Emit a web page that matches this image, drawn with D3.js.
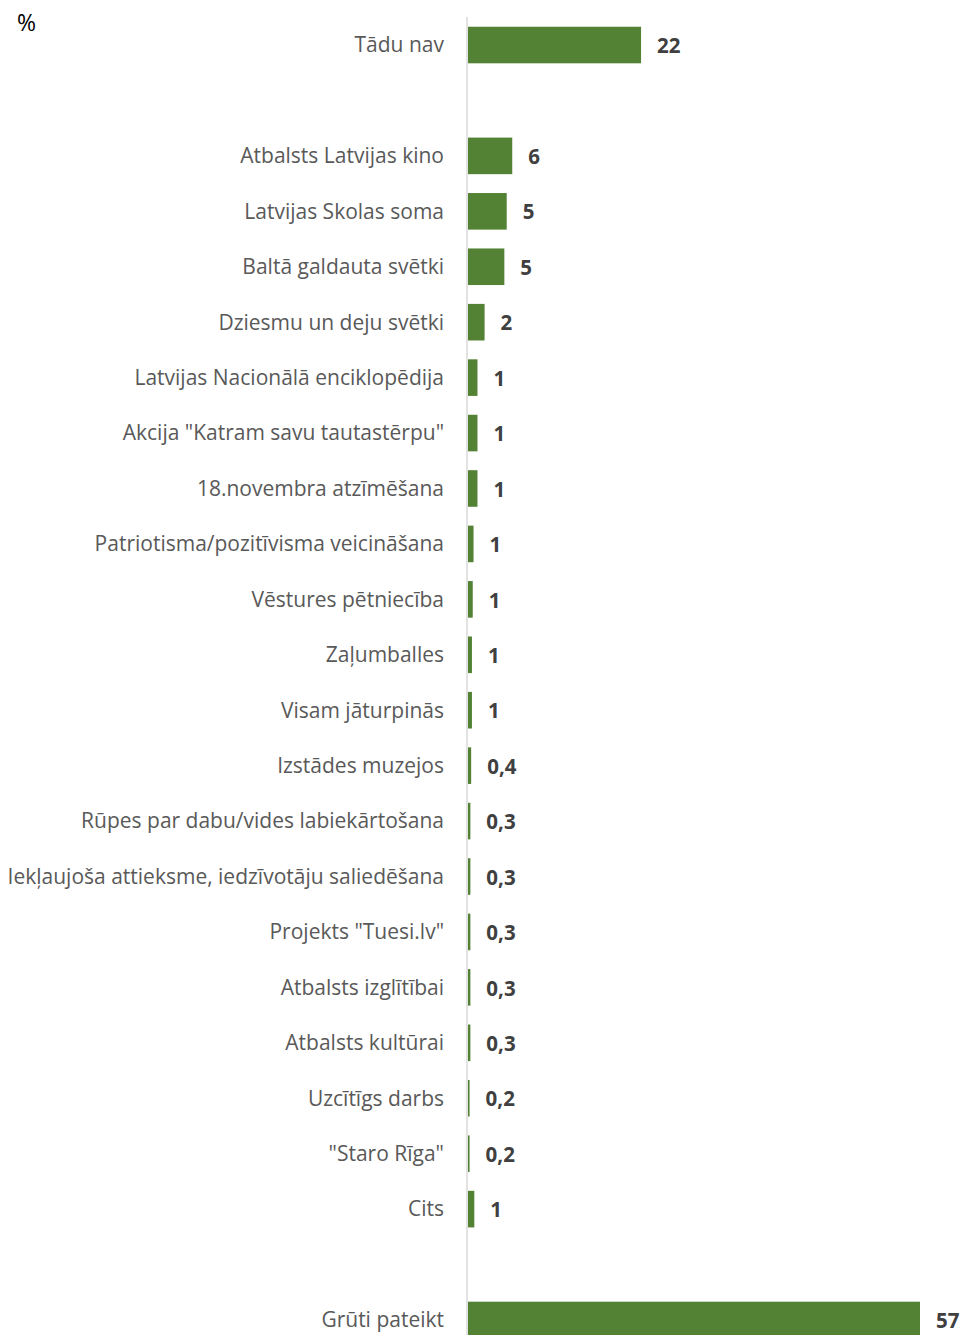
<!DOCTYPE html>
<html>
<head>
<meta charset="utf-8">
<script src="https://cdn.jsdelivr.net/npm/d3@7"></script>
<style>
  html, body { margin: 0; padding: 0; background: #fff; }
  svg { display: block; }
</style>
</head>
<body>
<svg id="chart" width="966" height="1335"></svg>
<script>
// Categories (empty strings are spacer rows in the original chart)
const categories = [
  "Tādu nav",
  "",
  "Atbalsts Latvijas kino",
  "Latvijas Skolas soma",
  "Baltā galdauta svētki",
  "Dziesmu un deju svētki",
  "Latvijas Nacionālā enciklopēdija",
  "Akcija \"Katram savu tautastērpu\"",
  "18.novembra atzīmēšana",
  "Patriotisma/pozitīvisma veicināšana",
  "Vēstures pētniecība",
  "Zaļumballes",
  "Visam jāturpinās",
  "Izstādes muzejos",
  "Rūpes par dabu/vides labiekārtošana",
  "Iekļaujoša attieksme, iedzīvotāju saliedēšana",
  "Projekts \"Tuesi.lv\"",
  "Atbalsts izglītībai",
  "Atbalsts kultūrai",
  "Uzcītīgs darbs",
  "\"Staro Rīga\"",
  "Cits",
  "",
  "Grūti pateikt"
];
const values = [21.9, null, 5.6, 4.9, 4.6, 2.1, 1.2, 1.2, 1.2, 0.7, 0.6, 0.5, 0.5, 0.4, 0.3, 0.3, 0.3, 0.3, 0.3, 0.2, 0.2, 0.8, null, 57.2];
const valueLabels = ["22", "", "6", "5", "5", "2", "1", "1", "1", "1", "1", "1", "1", "0,4", "0,3", "0,3", "0,3", "0,3", "0,3", "0,2", "0,2", "1", "", "57"];
const unitLabel = "%";

const svg = d3.select("#chart");
const x0 = 468;
const x = d3.scaleLinear().domain([0, 57.2]).range([x0, 920]);
const idx = categories.map((d, i) => i);
const y = d3.scaleBand().domain(idx).range([17.3, 1347.7]).paddingInner(0.34).paddingOuter(0.17);

const catFont = "'Open Sans', sans-serif";
const valFont = "'Open Sans', sans-serif";

// axis line
svg.append("line")
  .attr("x1", x0 - 1).attr("x2", x0 - 1)
  .attr("y1", 17).attr("y2", 1335)
  .attr("stroke", "#d9d9d9").attr("stroke-width", 1.5);

// bars
svg.append("g").selectAll("rect")
  .data(idx.filter(i => values[i] != null))
  .join("rect")
  .attr("x", x0)
  .attr("y", i => y(i))
  .attr("width", i => x(values[i]) - x0)
  .attr("height", y.bandwidth())
  .attr("fill", "#548235");

// category labels
svg.append("g").selectAll("text")
  .data(idx.filter(i => categories[i] !== ""))
  .join("text")
  .attr("x", 444)
  .attr("y", i => y(i) + y.bandwidth() / 2)
  .attr("dy", "0.35em")
  .attr("text-anchor", "end")
  .attr("font-family", catFont)
  .attr("font-size", 21)
  .attr("fill", "#595959")
  .text(i => categories[i]);

// value labels
svg.append("g").selectAll("text")
  .data(idx.filter(i => values[i] != null))
  .join("text")
  .attr("x", i => x(values[i]) + 16)
  .attr("y", i => y(i) + y.bandwidth() / 2 + 1)
  .attr("dy", "0.35em")
  .attr("font-family", valFont)
  .attr("font-size", 20.5)
  .attr("font-weight", "bold")
  .attr("fill", "#404040")
  .text(i => valueLabels[i]);

// unit label
svg.append("text")
  .attr("x", 17).attr("y", 31)
  .attr("font-family", catFont)
  .attr("font-size", 23)
  .attr("fill", "#000")
  .text(unitLabel);
</script>
</body>
</html>
